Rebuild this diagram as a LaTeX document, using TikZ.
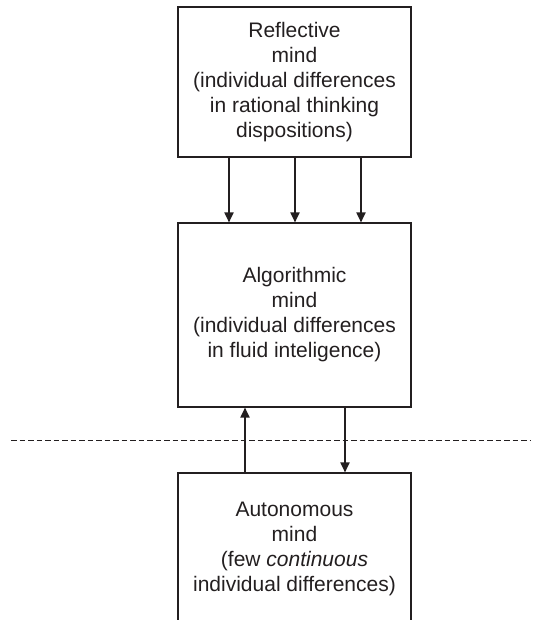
\documentclass[tikz,border=0pt]{standalone}
\usepackage{fontspec}
\setmainfont{Liberation Sans}
\usetikzlibrary{arrows.meta}
\definecolor{ink}{HTML}{231F20}
\begin{document}
\begin{tikzpicture}[x=1pt,y=-1pt,
  mindbox/.style={draw=ink, line width=1.1pt, minimum width=233pt, inner sep=0pt,
    align=center, font=\fontsize{21}{25}\selectfont, text=ink},
  link/.style={draw=ink, line width=1.8pt, -{Triangle[length=10pt,width=9pt]}},
  divider/.style={draw=ink, line width=1pt, dash pattern=on 5.5pt off 3pt}]
\useasboundingbox (0,0) rectangle (534,620);
\node[mindbox, minimum height=150pt] (refl) at (294.5,82)
  {Reflective\\mind\\(individual differences\\in rational thinking\\dispositions)};
\node[mindbox, minimum height=184pt] (alg) at (294.5,315)
  {Algorithmic\\mind\\(individual differences\\in fluid inteligence)};
\node[mindbox, minimum height=151pt] (auto) at (294.5,548.5)
  {Autonomous\\mind\\(few \textit{continuous}\\individual differences)};
\draw[link] ([xshift=-65.5pt]refl.south) -- ([xshift=-65.5pt]alg.north);
\draw[link] ([xshift=0.5pt]refl.south) -- ([xshift=0.5pt]alg.north);
\draw[link] ([xshift=66.5pt]refl.south) -- ([xshift=66.5pt]alg.north);
\draw[link] ([xshift=-49.5pt]auto.north) -- ([xshift=-49.5pt]alg.south);
\draw[link] ([xshift=50.5pt]alg.south) -- ([xshift=50.5pt]auto.north);
\coordinate (dl) at (11,440);
\coordinate (dr) at (531,440);
\draw[divider] (dl) -- (dr);
\end{tikzpicture}
\end{document}
